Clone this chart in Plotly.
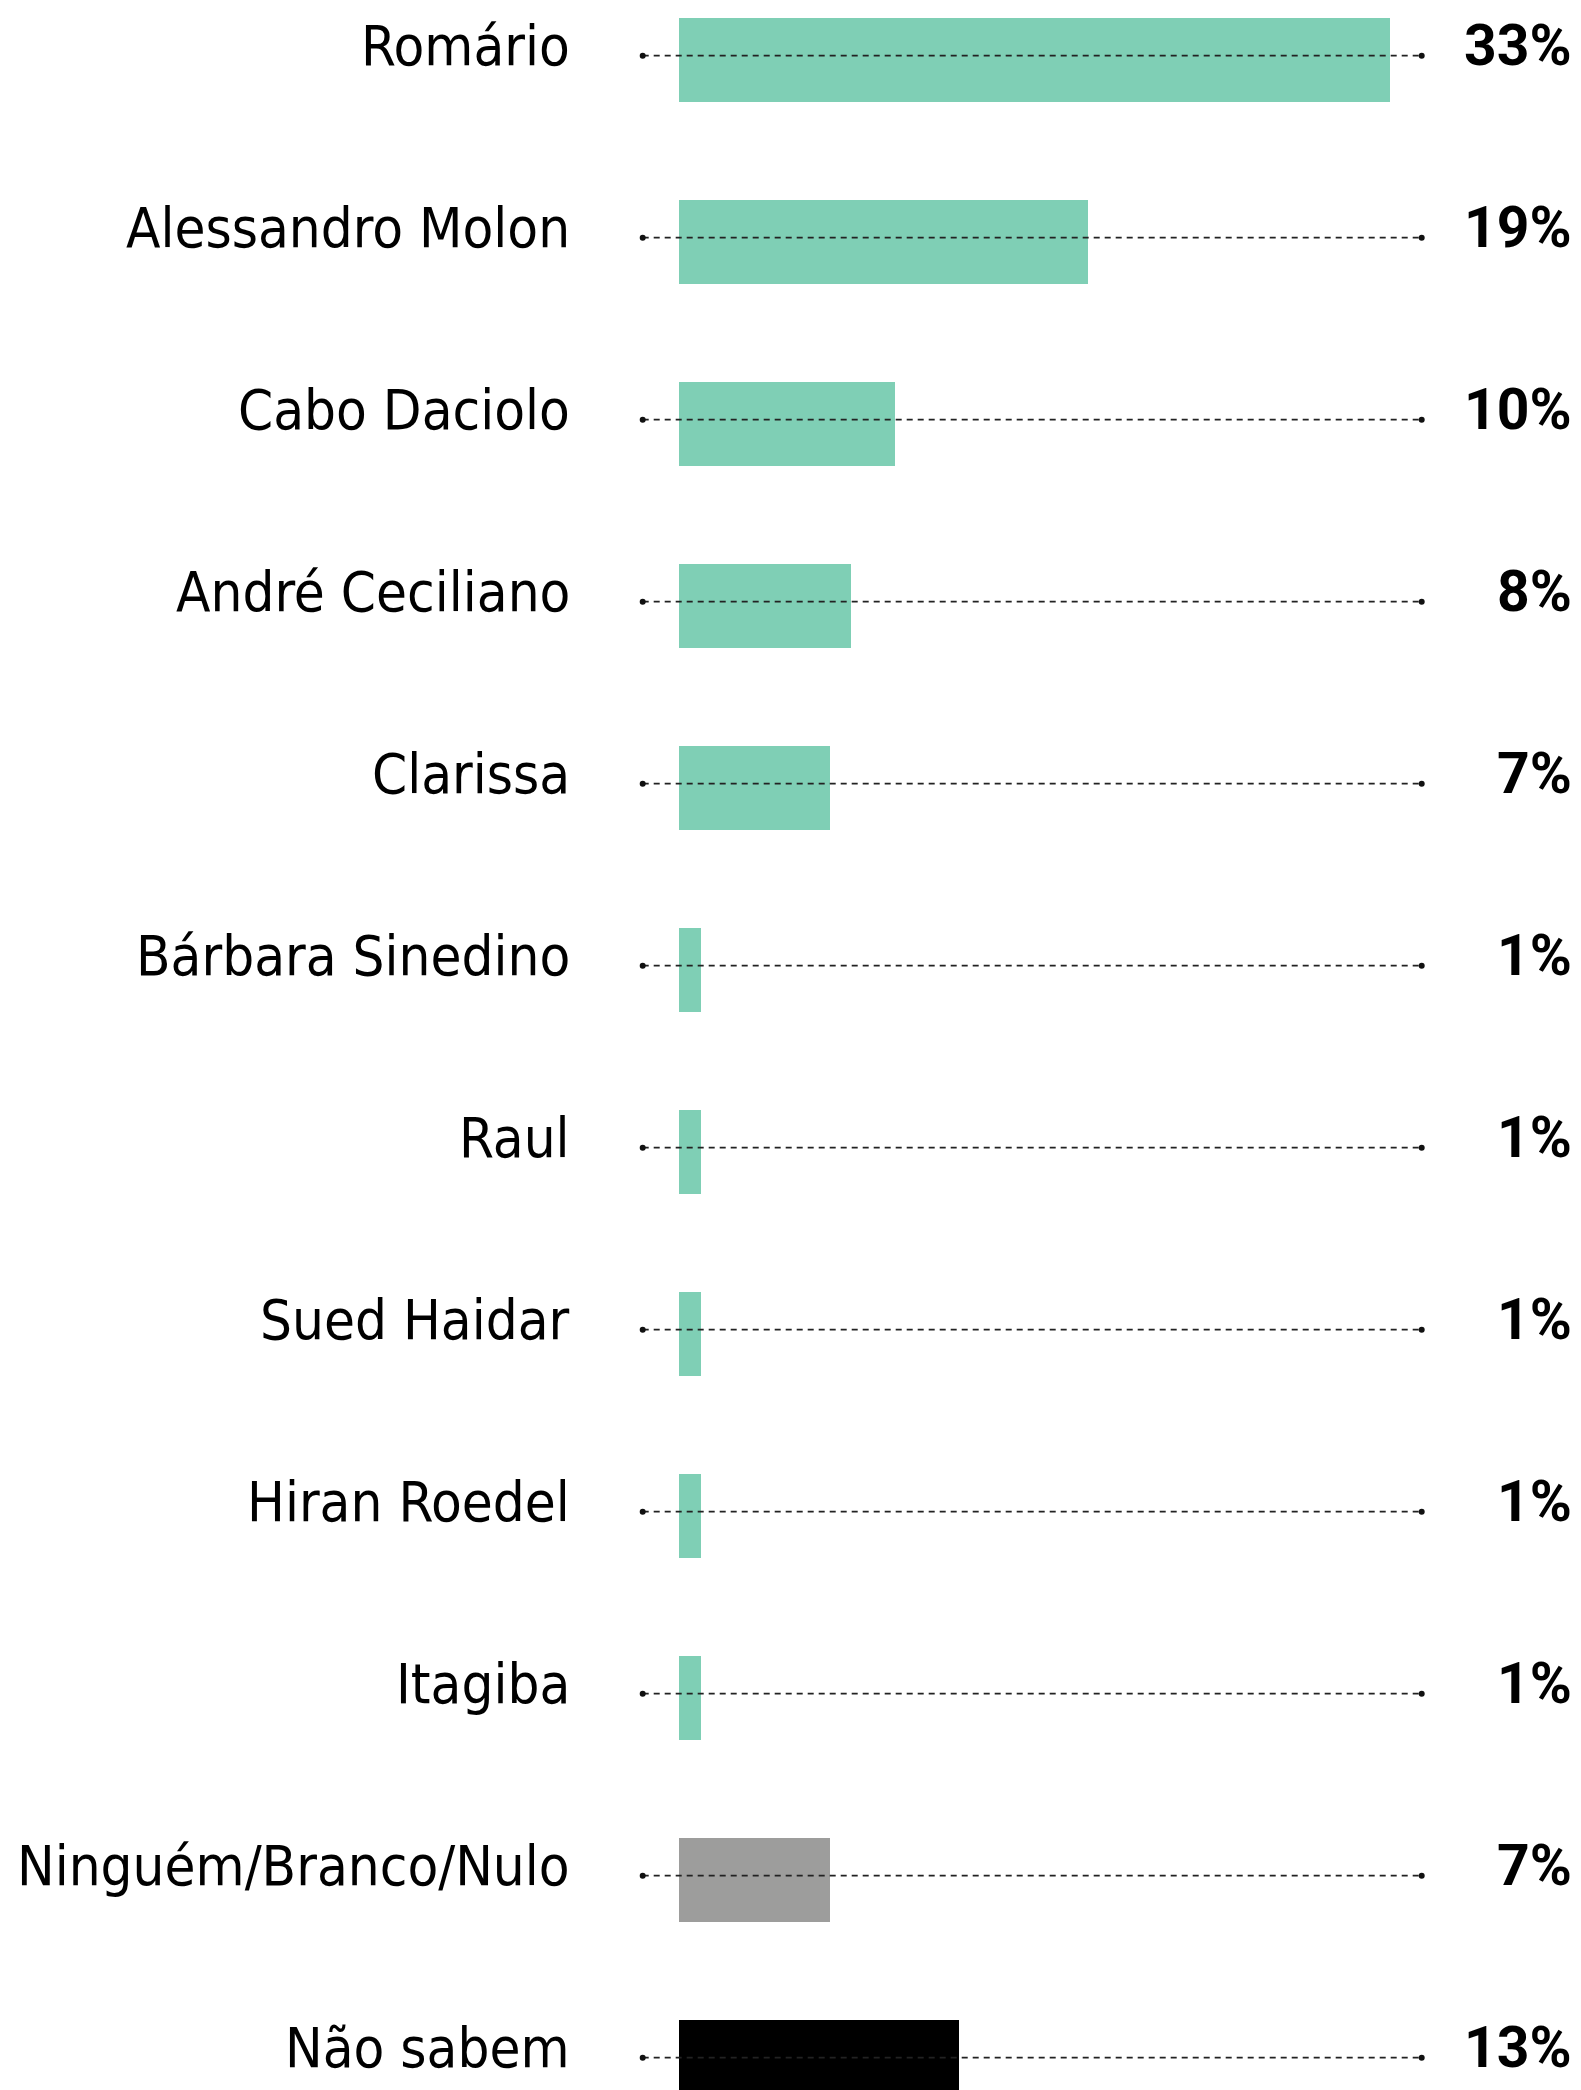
import plotly.graph_objects as go

# ---- data ----
categories = ["Romário", "Alessandro Molon", "Cabo Daciolo", "André Ceciliano",
              "Clarissa", "Bárbara Sinedino", "Raul", "Sued Haidar",
              "Hiran Roedel", "Itagiba", "Ninguém/Branco/Nulo", "Não sabem"]
values = [33, 19, 10, 8, 7, 1, 1, 1, 1, 1, 7, 13]
value_labels = ["33%", "19%", "10%", "8%", "7%", "1%", "1%", "1%", "1%", "1%", "7%", "13%"]
bar_colors = ["#7fcfb5"] * 10 + ["#9d9d9c", "#000000"]

# ---- layout constants (pixels) ----
W, H = 1581, 2090
zero_px = 679.0          # x pixel of 0%
px_per_unit = 21.55      # pixels per percentage point
row_gap = 182.0          # pixels between rows
first_row_px = 55.7      # y pixel of first row centre (dotted line)
bar_px = 84.0
bar_drop_px = 4.3        # bar centre sits slightly below the dotted line

x_min = -zero_px / px_per_unit
x_max = (W - zero_px) / px_per_unit
y_top = -first_row_px / row_gap
y_bot = (H - first_row_px) / row_gap
line_start = (642.7 - zero_px) / px_per_unit
line_end = (1421.7 - zero_px) / px_per_unit
bar_w = bar_px / row_gap

idx = list(range(len(categories)))

fig = go.Figure()
fig.add_trace(go.Bar(
    x=values, y=idx, orientation="h",
    width=bar_w,
    offset=-bar_w / 2 + bar_drop_px / row_gap,
    marker=dict(color=bar_colors, line=dict(width=0)),
    hoverinfo="skip", showlegend=False,
))

lx, ly = [], []
for i in idx:
    lx += [line_start, line_end, None]
    ly += [i, i, None]
fig.add_trace(go.Scatter(
    x=lx, y=ly, mode="lines",
    line=dict(color="#222222", width=1.8, dash="6px,5px"),
    hoverinfo="skip", showlegend=False,
))
mx, my = [], []
for i in idx:
    mx += [line_start, line_end]
    my += [i, i]
fig.add_trace(go.Scatter(
    x=mx, y=my, mode="markers",
    marker=dict(color="#111111", size=6, line=dict(width=0)),
    hoverinfo="skip", showlegend=False,
))

label_font = "DejaVu Sans Condensed, DejaVu Sans, sans-serif"
value_font = "Roboto, DejaVu Sans Condensed, sans-serif"

annotations = []
for i, (cat, lab) in enumerate(zip(categories, value_labels)):
    annotations.append(dict(
        x=572 / W, xref="paper", y=i, yref="y",
        text=cat, showarrow=False, xanchor="right", yanchor="middle", yshift=10,
        font=dict(family=label_font, size=56, color="#000000"),
    ))
    annotations.append(dict(
        x=1574 / W, xref="paper", y=i, yref="y",
        text="<b>" + lab + "</b>", showarrow=False, xanchor="right", yanchor="middle", yshift=10,
        font=dict(family=value_font, size=57, color="#000000"),
    ))

fig.update_layout(
    width=W, height=H,
    margin=dict(l=0, r=0, t=0, b=0),
    paper_bgcolor="white", plot_bgcolor="white",
    xaxis=dict(range=[x_min, x_max], visible=False, fixedrange=True),
    yaxis=dict(range=[y_bot, y_top], visible=False, fixedrange=True),
    annotations=annotations,
    bargap=0,
)

fig.write_html(
    "out.html",
    config={"displayModeBar": False},
    post_script=["document.body.style.margin='0px';document.body.style.overflow='hidden';"],
)
